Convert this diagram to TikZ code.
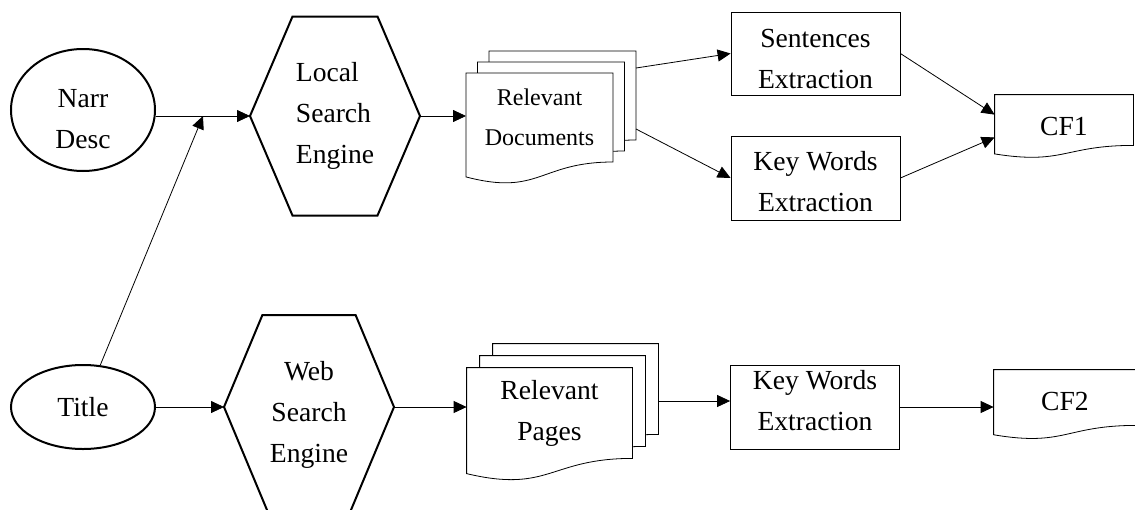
\documentclass[tikz,border=0pt]{standalone}
\usepackage{fontspec}
\setmainfont{Liberation Serif}
\usetikzlibrary{shapes.geometric,arrows.meta,calc,backgrounds}

% outlines drawn round empty frames
\newcommand{\hexpath}[3]{%
  \coordinate (#1-bl) at ($(#1.south west)!#2!(#1.south east)$);
  \coordinate (#1-br) at ($(#1.south east)!#2!(#1.south west)$);
  \draw ($(#1.west)!#3!(#1-bl)$) -- (#1.west)
    -- ($(#1.north west)!#2!(#1.north east)$)
    -- ($(#1.north east)!#2!(#1.north west)$) -- (#1.east)
    -- ($(#1.east)!#3!(#1-br)$) -- cycle;}
\newcommand{\docpath}[1]{%
  \begin{pgfonlayer}{background}
  \draw[fill=white] (#1.north west) -- (#1.north east) -- (#1.south east)
    .. controls (#1.south) and ($(#1.south)!-0.385!(#1.north)$)
    .. ($(#1.south west)!-0.1675!(#1.north west)$) -- cycle;
  \end{pgfonlayer}}

\begin{document}
\begin{tikzpicture}[x=0.5pt,y=-0.5pt,line width=1pt,
    >={Triangle[length=6.5pt,width=6pt]},
    txt/.style={align=center,inner sep=0pt,font=\fontsize{13.8}{20.5}\selectfont},
    oval/.style={txt,draw,ellipse,minimum width=72pt},
    frame/.style={txt,rectangle},
    box/.style={txt,draw,rectangle,minimum width=84.5pt,minimum height=42pt}]
        \clip (0,0) rectangle (1135,509);

        \node[oval,minimum height=61pt,label={[txt,yshift=-4.5pt]center:{Narr\\Desc}}] (narr) at (83,110) {};
        \node[oval,minimum height=42pt] (title) at (83,407) {Title};
        \coordinate (jn) at (203,116);

        \node[frame,align=left,minimum width=84pt,minimum height=98.5pt] (local) at (335,116) {Local\\Search\\Engine};
        \node[frame,minimum width=84pt,minimum height=91pt,label={[txt,yshift=-3.75pt]center:{Web\\Search\\Engine}}] (web) at (309,407) {};
        \hexpath{local}{0.25}{1}
        \hexpath{web}{0.226}{1.15}

        \node[frame,minimum width=72.5pt,minimum height=43.5pt] (docC) at (562.5,95.5) {};
        \node[frame,minimum width=72.5pt,minimum height=43.5pt] (docB) at (551,106.5) {};
        \node[frame,minimum width=72.5pt,minimum height=43.5pt,font=\fontsize{12}{20}\selectfont] (docA) at (539.5,117.5) {Relevant\\Documents};
        \docpath{docC}
        \docpath{docB}
        \docpath{docA}

        \node[frame,minimum width=82.5pt,minimum height=45pt] (pagesC) at (575.5,389) {};
        \node[frame,minimum width=82.5pt,minimum height=45pt] (pagesB) at (562.5,401) {};
        \node[frame,minimum width=82.5pt,minimum height=45pt] (pagesA) at (549.5,413) {Relevant\\Pages};
        \docpath{pagesC}
        \docpath{pagesB}
        \docpath{pagesA}

        \node[box,minimum height=41.5pt,label={[txt,yshift=-2.75pt]center:{Sentences\\Extraction}}] (sent) at (815.5,53.5) {};
        \node[box,label={[txt,yshift=-1.75pt]center:{Key Words\\Extraction}}] (kw1) at (815.5,178) {};
        \node[box,label={[txt,yshift=3pt]center:{Key Words\\Extraction}}] (kw2) at (815,407) {};

        \node[frame,minimum width=69pt,minimum height=25pt,label={[txt,yshift=-3pt]center:CF1}] (cf1) at (1064,120) {};
        \node[frame,minimum width=71pt,minimum height=27.5pt,label={[txt,yshift=-1.75pt]center:CF2}] (cf2) at (1065,397.5) {};
        \docpath{cf1}
        \docpath{cf2}

        \draw[->] (narr.east |- local.west) -- (local.west);
        \draw[->] (title) -- (jn);
        \draw[->] (title.east) -- (web.west);
        \draw[->] (local.east) -- (local.east -| docA.west);
        \draw[->] ([yshift=-8.5pt]docC.north east) -- (sent.west);
        \draw[->] ([yshift=5.5pt]docC.south east) -- (kw1.west);
        \draw[->] (sent.east) -- ([yshift=-10pt]cf1.north west);
        \draw[->] (kw1.east) -- ([yshift=4pt]cf1.south west);
        \draw[->] (web.east) -- (web.east -| pagesA.west);
        \draw[->] ([yshift=-6pt]pagesC.east) -- ([yshift=3pt]kw2.west);
        \draw[->] (kw2.east) -- (kw2.east -| cf2.west);
    \end{tikzpicture}
\end{document}
